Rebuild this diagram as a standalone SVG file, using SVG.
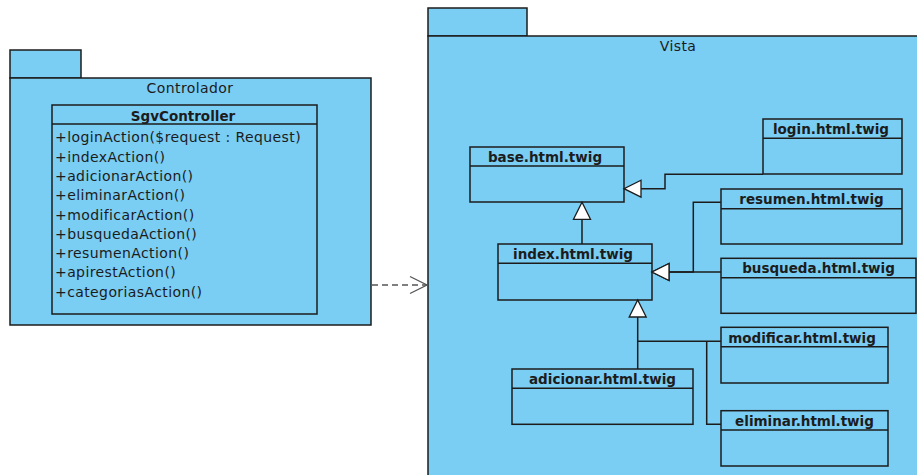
<svg xmlns="http://www.w3.org/2000/svg" width="917" height="475" viewBox="0 0 917 475">
  <style>
    .pkg { fill: #7acdf3; stroke: #1c1c1c; stroke-width: 1.5; }
    .cls { fill: #7acdf3; stroke: #1c1c1c; stroke-width: 1.5; }
    .sep { stroke: #1c1c1c; stroke-width: 1.5; fill: none; }
    .pkgname { font-family: "DejaVu Sans", sans-serif; font-size: 14px; letter-spacing: 0.4px; fill: #1c1c1c; text-anchor: middle; }
    .title { font-family: "DejaVu Sans", sans-serif; font-size: 13.5px; font-weight: bold; fill: #1c1c1c; text-anchor: middle; }
    .op { font-family: "DejaVu Sans", sans-serif; font-size: 14px; letter-spacing: 0.4px; fill: #1c1c1c; }
    .gen { stroke: #1c1c1c; stroke-width: 1.5; fill: none; }
    .dep { stroke: #555; stroke-width: 1.3; fill: none; stroke-dasharray: 6 4; }
  </style>
  <defs>
    <marker id="hollow" viewBox="0 0 20 20" refX="18" refY="10" markerWidth="20" markerHeight="20" markerUnits="userSpaceOnUse" orient="auto">
      <path d="M1,1.5 L18,10 L1,18.5 Z" fill="#fff" stroke="#1c1c1c" stroke-width="1.3"/>
    </marker>
    <marker id="open" viewBox="0 0 20 20" refX="18" refY="10" markerWidth="20" markerHeight="20" markerUnits="userSpaceOnUse" orient="auto">
      <path d="M1,1.5 L18,10 L1,18.5" fill="none" stroke="#555" stroke-width="1.3"/>
    </marker>
  </defs>

  <!-- Controlador package -->
  <g id="pkg-controlador">
    <rect class="pkg" x="10" y="50" width="71" height="28"/>
    <rect class="pkg" x="10" y="78" width="361" height="247"/>
    <text class="pkgname" x="190" y="93">Controlador</text>
  </g>

  <!-- Vista package -->
  <g id="pkg-vista">
    <rect class="pkg" x="428" y="8" width="99" height="28"/>
    <rect class="pkg" x="428" y="36" width="500" height="450"/>
    <text class="pkgname" x="678" y="51">Vista</text>
  </g>

  <g id="SgvController">
    <rect class="cls" x="52" y="105" width="265" height="209"/>
    <line class="sep" x1="52" y1="124" x2="317" y2="124"/>
    <text class="title" x="183" y="120.5">SgvController</text>
    <text class="op" x="55" y="142.3">+loginAction($request : Request)</text>
    <text class="op" x="55" y="161.6">+indexAction()</text>
    <text class="op" x="55" y="180.9">+adicionarAction()</text>
    <text class="op" x="55" y="200.2">+eliminarAction()</text>
    <text class="op" x="55" y="219.5">+modificarAction()</text>
    <text class="op" x="55" y="238.8">+busquedaAction()</text>
    <text class="op" x="55" y="258.1">+resumenAction()</text>
    <text class="op" x="55" y="277.4">+apirestAction()</text>
    <text class="op" x="55" y="296.7">+categoriasAction()</text>
  </g>

  <g id="base">
    <rect class="cls" x="470" y="147" width="154" height="55"/>
    <line class="sep" x1="470" y1="166" x2="624" y2="166"/>
    <text class="title" x="545" y="162.3">base.html.twig</text>
  </g>

  <g id="login">
    <rect class="cls" x="763" y="119" width="139" height="55"/>
    <line class="sep" x1="763" y1="138.3" x2="902" y2="138.3"/>
    <text class="title" x="831" y="134.3">login.html.twig</text>
  </g>

  <g id="resumen">
    <rect class="cls" x="721" y="189" width="181" height="55"/>
    <line class="sep" x1="721" y1="208.7" x2="902" y2="208.7"/>
    <text class="title" x="811.5" y="204">resumen.html.twig</text>
  </g>

  <g id="index">
    <rect class="cls" x="498" y="244" width="154" height="56"/>
    <line class="sep" x1="498" y1="263.3" x2="652" y2="263.3"/>
    <text class="title" x="573" y="259.3">index.html.twig</text>
  </g>

  <g id="busqueda">
    <rect class="cls" x="721" y="258.3" width="195" height="55"/>
    <line class="sep" x1="721" y1="277.7" x2="916" y2="277.7"/>
    <text class="title" x="818.5" y="273.3">busqueda.html.twig</text>
  </g>

  <g id="modificar">
    <rect class="cls" x="721" y="327.3" width="167" height="55.7"/>
    <line class="sep" x1="721" y1="346.7" x2="888" y2="346.7"/>
    <text class="title" x="802" y="342.7">modificar.html.twig</text>
  </g>

  <g id="adicionar">
    <rect class="cls" x="512" y="369" width="181" height="55.3"/>
    <line class="sep" x1="512" y1="388.3" x2="693" y2="388.3"/>
    <text class="title" x="602.5" y="384">adicionar.html.twig</text>
  </g>

  <g id="eliminar">
    <rect class="cls" x="721" y="410.7" width="167" height="55.3"/>
    <line class="sep" x1="721" y1="430" x2="888" y2="430"/>
    <text class="title" x="804.5" y="425.7">eliminar.html.twig</text>
  </g>

  <g id="connectors">
    <!-- login -> base -->
    <polyline class="gen" points="763,174.3 665,174.3 665,188.7 624,188.7" marker-end="url(#hollow)"/>
    <!-- index -> base -->
    <polyline class="gen" points="582,244 582,202.3" marker-end="url(#hollow)"/>
    <!-- resumen -> index -->
    <polyline class="gen" points="721,202.3 693.3,202.3 693.3,272 652,272" marker-end="url(#hollow)"/>
    <!-- busqueda -> index -->
    <polyline class="gen" points="721,272 652,272" marker-end="url(#hollow)"/>
    <!-- adicionar -> index -->
    <polyline class="gen" points="637.7,369 637.7,300" marker-end="url(#hollow)"/>
    <!-- modificar -> index -->
    <polyline class="gen" points="721,341.3 637.7,341.3"/>
    <!-- eliminar -> index -->
    <polyline class="gen" points="721,424.3 706.7,424.3 706.7,341.3"/>
    <!-- Controlador depends on Vista -->
    <line class="dep" x1="372" y1="285" x2="427" y2="285" marker-end="url(#open)"/>
  </g>
</svg>
